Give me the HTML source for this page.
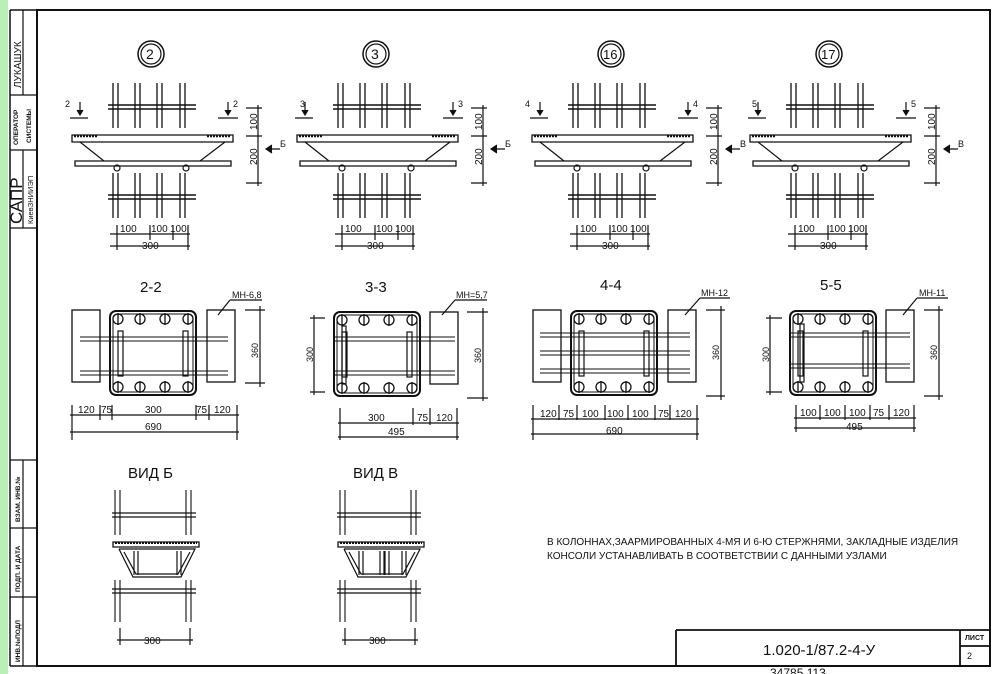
<!DOCTYPE html>
<html><head><meta charset="utf-8"><style>
html,body{margin:0;padding:0;background:#fff}
svg{display:block}
text{font-family:"Liberation Sans","DejaVu Sans",sans-serif;fill:#111}
</style></head><body>
<svg width="994" height="674" viewBox="0 0 994 674" xmlns="http://www.w3.org/2000/svg" stroke="#111" fill="none" stroke-width="1.2">
<defs>
<g id="bars">
 <g stroke-width="1.3">
  <path d="M113 83V128M118 83V128M135 83V128M140 83V128M157 83V128M162 83V128M180 83V128M185 83V128"/>
 </g>
 <path d="M108 105H196M108 109H196" stroke-width="1.4"/>
</g>
<g id="node">
 <use href="#bars"/>
 <use href="#bars" transform="translate(0,90)"/>
 <path d="M72 135H233V142H72Z" stroke-width="1.3"/>
 <path d="M74 136H98M207 136H231" stroke-width="2.5" stroke-dasharray="2 1"/>
 <path d="M75 161H231V166H75Z" stroke-width="1.3"/>
 <path d="M80 142L104 161M225 142L200 161" />
 <circle cx="117" cy="168" r="3"/><circle cx="186" cy="168" r="3"/>
 <path d="M70 118H88M218 118H238M80 102V114M228 102V114" />
 <path d="M77 110L80 115L83 110M225 110L228 115L231 110" fill="#111"/>
 <path d="M246 108H262M246 136H262M246 183H262M258 105V186" />
 <path d="M117 225V240M150 225V240M173 225V240M188 225V240M110 234H190M110 246H190M117 240V250M188 240V250"/>
 <text x="120" y="232" font-size="10" stroke="none">100</text>
 <text x="151" y="232" font-size="10" stroke="none">100</text>
 <text x="170" y="232" font-size="10" stroke="none">100</text>
 <text x="142" y="249" font-size="10" stroke="none">300</text>
 <text transform="translate(257,130) rotate(-90)" font-size="10" stroke="none">100</text>
 <text transform="translate(257,165) rotate(-90)" font-size="10" stroke="none">200</text>
 <path d="M268 149H280M272 145L266 149L272 153" fill="#111"/>
</g>
<g id="cage">
 <rect x="0" y="0" width="86" height="84" rx="6" stroke-width="2"/>
 <rect x="3" y="3" width="80" height="78" rx="4" stroke-width="1"/>
 <g stroke-width="1.3">
  <circle cx="8" cy="8" r="5"/><circle cx="30" cy="8" r="5"/><circle cx="55" cy="8" r="5"/><circle cx="78" cy="8" r="5"/>
  <circle cx="8" cy="76" r="5"/><circle cx="30" cy="76" r="5"/><circle cx="55" cy="76" r="5"/><circle cx="78" cy="76" r="5"/>
  <path d="M8 2V14M30 2V14M55 2V14M78 2V14M8 70V82M30 70V82M55 70V82M78 70V82"/>
 </g>
 <rect x="8" y="20" width="5" height="45"/><rect x="73" y="20" width="5" height="45"/>
</g>
<g id="blk"><rect x="0" y="0" width="28" height="72" stroke-width="1.3"/></g>
<g id="vid">
 <path d="M115 490V535M120 490V535M186 490V535M191 490V535M115 580V622M120 580V622M186 580V622M191 580V622" stroke-width="1.1"/>
 <path d="M112 513H196M112 517H196M112 589H196M112 593H196" stroke-width="1.3"/>
 <path d="M113 542H199V547H113Z" stroke-width="1.3"/>
 <path d="M115 543H197" stroke-dasharray="2 1" stroke-width="2"/>
 <path d="M119 549L133 577H181L195 549H119M124 552L136 574H178L190 552" stroke-width="1.2"/>
 <path d="M120 628V645M190 628V645M117 640H193"/>
 <text x="144" y="644" font-size="10" stroke="none">300</text>
</g>
</defs>

<rect x="0" y="0" width="8" height="674" fill="#b8f0b8" stroke="none"/>
<path d="M37 10H990V666H37Z" stroke-width="2"/>
<path d="M10 10V666M10 666H37M10 10H37" stroke-width="1.5"/>
<path d="M10 95H37M10 150H37M10 228H37M10 460H37M10 528H37M10 597H37M23 10V95M23 150V228M23 460V666" stroke-width="1.2"/>
<text transform="translate(21,88) rotate(-90)" font-size="10" stroke="none">ЛУКАШУК</text>
<text transform="translate(18,145) rotate(-90)" font-size="6.5" font-weight="bold" stroke="none">ОПЕРАТОР</text>
<text transform="translate(31,143) rotate(-90)" font-size="6.5" font-weight="bold" stroke="none">СИСТЕМЫ</text>
<text transform="translate(22,224) rotate(-90)" font-size="17" stroke="none">САПР</text>
<text transform="translate(33,224) rotate(-90)" font-size="7.5" stroke="none">КиевЗНИИЭП</text>
<text transform="translate(20,522) rotate(-90)" font-size="6.5" font-weight="bold" stroke="none">ВЗАМ. ИНВ.№</text>
<text transform="translate(20,592) rotate(-90)" font-size="6.5" font-weight="bold" stroke="none">ПОДП. И ДАТА</text>
<text transform="translate(20,662) rotate(-90)" font-size="6.5" font-weight="bold" stroke="none">ИНВ.№ПОДЛ</text>
<path d="M676 630H990M676 630V666M960 630V666M960 646H990" stroke-width="1.8"/>
<text x="763" y="655" font-size="15" stroke="none">1.020-1/87.2-4-У</text>
<text x="965" y="640" font-size="7" font-weight="bold" stroke="none">ЛИСТ</text>
<text x="967" y="659" font-size="9" stroke="none">2</text>
<text x="770" y="677" font-size="12" stroke="none">34785  113</text>

<circle cx="151" cy="54" r="13" stroke-width="1.5"/><circle cx="151" cy="54" r="10"/>
<text x="146" y="59" font-size="14" stroke="none">2</text>
<use href="#node"/>
<text x="65" y="107" font-size="9" stroke="none">2</text><text x="233" y="107" font-size="9" stroke="none">2</text><text x="280" y="147" font-size="9" stroke="none">Б</text>

<circle cx="376" cy="54" r="13" stroke-width="1.5"/><circle cx="376" cy="54" r="10"/>
<text x="371" y="59" font-size="14" stroke="none">3</text>
<use href="#node" transform="translate(225,0)"/>
<text x="300" y="107" font-size="9" stroke="none">3</text><text x="458" y="107" font-size="9" stroke="none">3</text><text x="505" y="147" font-size="9" stroke="none">Б</text>

<circle cx="611" cy="54" r="13" stroke-width="1.5"/><circle cx="611" cy="54" r="10"/>
<text x="603" y="59" font-size="13" stroke="none">16</text>
<use href="#node" transform="translate(460,0)"/>
<text x="525" y="107" font-size="9" stroke="none">4</text><text x="693" y="107" font-size="9" stroke="none">4</text><text x="740" y="147" font-size="9" stroke="none">В</text>

<circle cx="829" cy="54" r="13" stroke-width="1.5"/><circle cx="829" cy="54" r="10"/>
<text x="821" y="59" font-size="13" stroke="none">17</text>
<use href="#node" transform="translate(678,0)"/>
<text x="752" y="107" font-size="9" stroke="none">5</text><text x="911" y="107" font-size="9" stroke="none">5</text><text x="958" y="147" font-size="9" stroke="none">В</text>

<g>
<text x="140" y="292" font-size="15" stroke="none">2-2</text>
<use href="#blk" transform="translate(72,310)"/><use href="#cage" transform="translate(110,311)"/><use href="#blk" transform="translate(207,310)"/>
<path d="M80 337H228M80 341H228M80 371H228M80 375H228" stroke-width="1"/>
<text x="232" y="298" font-size="9" stroke="none">МН-6,8</text>
<path d="M230 300H262M230 300L218 315M245 310H265M245 383H265M260 306V387"/>
<text transform="translate(258,358) rotate(-90)" font-size="9" stroke="none">360</text>
<path d="M72 405V440M100 405V420M112 405V420M196 405V420M209 405V420M237 405V440M70 415H239M70 432H239"/>
<text x="78" y="413" font-size="10" stroke="none">120</text><text x="101" y="413" font-size="10" stroke="none">75</text><text x="145" y="413" font-size="10" stroke="none">300</text><text x="196" y="413" font-size="10" stroke="none">75</text><text x="214" y="413" font-size="10" stroke="none">120</text>
<text x="145" y="430" font-size="10" stroke="none">690</text>
</g>
<g>
<text x="365" y="292" font-size="15" stroke="none">3-3</text>
<use href="#cage" transform="translate(334,312)"/><use href="#blk" transform="translate(430,312)"/>
<path d="M334 337H455M334 341H455M334 371H455M334 375H455" stroke-width="1"/>
<rect x="342" y="326" width="4" height="58"/>
<text x="456" y="298" font-size="9" stroke="none">МН=5,7</text>
<path d="M455 300H487M455 300L442 315M467 312H488M467 398H488M483 308V401M310 318H325M310 392H325M314 315V395"/>
<text transform="translate(481,363) rotate(-90)" font-size="9" stroke="none">360</text>
<text transform="translate(313,362) rotate(-90)" font-size="9" stroke="none">300</text>
<path d="M340 408V440M413 408V425M430 408V425M457 408V440M338 423H459M338 437H459"/>
<text x="368" y="421" font-size="10" stroke="none">300</text><text x="417" y="421" font-size="10" stroke="none">75</text><text x="436" y="421" font-size="10" stroke="none">120</text>
<text x="388" y="435" font-size="10" stroke="none">495</text>
</g>
<g>
<text x="600" y="290" font-size="15" stroke="none">4-4</text>
<use href="#blk" transform="translate(533,310)"/><use href="#cage" transform="translate(571,311)"/><use href="#blk" transform="translate(668,310)"/>
<path d="M540 333H690M540 337H690M540 351H690M540 355H690M540 369H690M540 373H690" stroke-width="1"/>
<text x="701" y="296" font-size="9" stroke="none">МН-12</text>
<path d="M700 298H730M700 298L685 315M706 310H725M706 396H725M721 306V400"/>
<text transform="translate(719,360) rotate(-90)" font-size="9" stroke="none">360</text>
<path d="M533 405V440M559 405V420M577 405V420M605 405V420M628 405V420M655 405V420M670 405V420M697 405V440M531 419H699M531 434H699"/>
<text x="540" y="417" font-size="10" stroke="none">120</text><text x="563" y="417" font-size="10" stroke="none">75</text><text x="582" y="417" font-size="10" stroke="none">100</text><text x="607" y="417" font-size="10" stroke="none">100</text><text x="632" y="417" font-size="10" stroke="none">100</text><text x="658" y="417" font-size="10" stroke="none">75</text><text x="675" y="417" font-size="10" stroke="none">120</text>
<text x="606" y="434" font-size="10" stroke="none">690</text>
</g>
<g>
<text x="820" y="290" font-size="15" stroke="none">5-5</text>
<use href="#cage" transform="translate(790,311)"/><use href="#blk" transform="translate(886,310)"/>
<path d="M790 333H910M790 337H910M790 364H910M790 368H910" stroke-width="1"/>
<rect x="800" y="324" width="4" height="58"/>
<text x="919" y="296" font-size="9" stroke="none">МН-11</text>
<path d="M917 298H948M917 298L903 315M924 310H943M924 396H943M939 306V400M766 318H782M766 392H782M770 315V395"/>
<text transform="translate(937,360) rotate(-90)" font-size="9" stroke="none">360</text>
<text transform="translate(769,362) rotate(-90)" font-size="9" stroke="none">300</text>
<path d="M796 405V432M820 405V420M845 405V420M870 405V420M889 405V420M914 405V432M794 418H916M794 428H916"/>
<text x="800" y="416" font-size="10" stroke="none">100</text><text x="824" y="416" font-size="10" stroke="none">100</text><text x="849" y="416" font-size="10" stroke="none">100</text><text x="873" y="416" font-size="10" stroke="none">75</text><text x="893" y="416" font-size="10" stroke="none">120</text>
<text x="846" y="430" font-size="10" stroke="none">495</text>
</g>

<text x="128" y="478" font-size="15" stroke="none">ВИД  Б</text>
<use href="#vid"/>
<path d="M134 551V575M138 551V575M177 551V575M181 551V575"/>
<text x="353" y="478" font-size="15" stroke="none">ВИД  В</text>
<use href="#vid" transform="translate(225,0)"/>
<path d="M359 551V575M363 551V575M380 551V575M384 551V575M385 551V575M389 551V575M402 551V575M406 551V575"/>

<text x="547" y="545" font-size="10" stroke="none">В КОЛОННАХ,ЗААРМИРОВАННЫХ 4-МЯ И 6-Ю СТЕРЖНЯМИ, ЗАКЛАДНЫЕ ИЗДЕЛИЯ</text>
<text x="547" y="559" font-size="10" stroke="none">КОНСОЛИ УСТАНАВЛИВАТЬ В СООТВЕТСТВИИ С ДАННЫМИ УЗЛАМИ</text>
</svg>
</body></html>
